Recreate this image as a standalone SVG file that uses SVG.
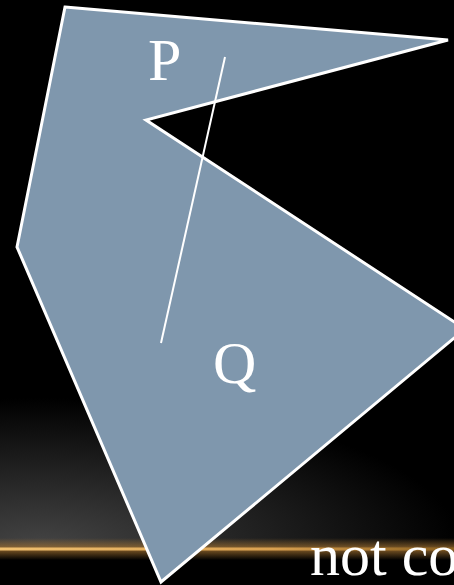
<svg xmlns="http://www.w3.org/2000/svg" width="454" height="585" viewBox="0 0 454 585">
<defs>
<radialGradient id="glow" cx="40" cy="545" r="420" gradientUnits="userSpaceOnUse" gradientTransform="translate(40 545) scale(1 0.35) translate(-40 -545)">
<stop offset="0" stop-color="#444"/>
<stop offset="0.5" stop-color="#222"/>
<stop offset="1" stop-color="#000"/>
</radialGradient>
<linearGradient id="gold" x1="0" y1="0" x2="454" y2="0" gradientUnits="userSpaceOnUse">
<stop offset="0" stop-color="#f0c070"/>
<stop offset="0.6" stop-color="#d9a050"/>
<stop offset="1" stop-color="#8a6020"/>
</linearGradient>
<linearGradient id="goldglow" x1="0" y1="538" x2="0" y2="560" gradientUnits="userSpaceOnUse">
<stop offset="0" stop-color="#a07030" stop-opacity="0"/>
<stop offset="0.5" stop-color="#a07030" stop-opacity="0.8"/>
<stop offset="1" stop-color="#a07030" stop-opacity="0"/>
</linearGradient>
</defs>
<style>
.shape{fill:#7f97ad;stroke:#fff;stroke-width:3;stroke-linejoin:miter}
.seg{stroke:#fff;stroke-width:2;fill:none}
.lbl{font-family:"Liberation Serif",serif;fill:#fff;font-size:60px}
</style>
<rect width="454" height="585" fill="#000"/>
<rect x="0" y="380" width="454" height="168" fill="url(#glow)"/>
<rect x="0" y="538" width="454" height="22" fill="url(#goldglow)"/>
<rect x="0" y="547.5" width="454" height="3" fill="url(#gold)"/>
<g id="polygon">
<polygon class="shape" points="65,7 448,40 146,120 465,329 161,582 17,247"/>
</g>
<g id="connectors">
<line class="seg" x1="225" y1="57" x2="161" y2="343"/>
</g>
<g id="P"><text class="lbl" x="148" y="80">P</text></g>
<g id="Q"><text class="lbl" x="213" y="383">Q</text></g>
<g id="caption"><text class="lbl" x="310" y="575" font-size="62">not co</text></g>
</svg>
